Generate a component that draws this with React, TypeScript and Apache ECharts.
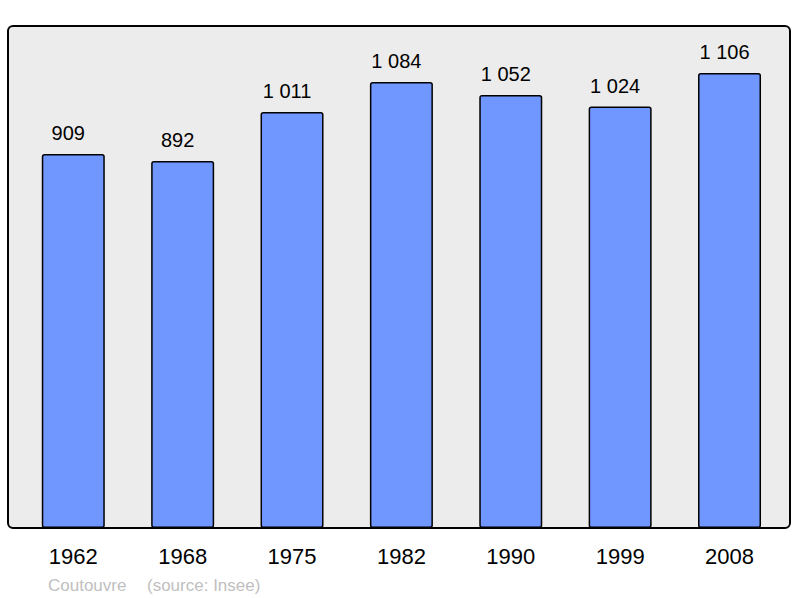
import React, { useEffect, useRef } from "react";
import * as echarts from "echarts";

const years = ["1962", "1968", "1975", "1982", "1990", "1999", "2008"];
const population = [909, 892, 1011, 1084, 1052, 1024, 1106];
const commune = "Coutouvre";
const source = "(source: Insee)";

const fmt = (v: number) => String(v).replace(/\B(?=(\d{3})+(?!\d))/g, " ");

export default function App() {
  const ref = useRef<HTMLDivElement>(null);
  useEffect(() => {
    document.body.style.margin = "0";
    const chart = echarts.init(ref.current!, null, { renderer: "svg" });
    chart.setOption({
      animation: false,
      textStyle: { fontFamily: "Liberation Sans, Arial, sans-serif" },
      grid: { left: 18.6, right: 15.8, top: 34.2, bottom: 70, containLabel: false },
      xAxis: {
        type: "category",
        data: years,
        axisLine: { show: false },
        axisTick: { show: false },
        axisLabel: { fontSize: 22, color: "#000", margin: 17, fontFamily: "Liberation Sans, Arial, sans-serif" },
      },
      yAxis: {
        type: "value",
        min: 0,
        max: 1200,
        show: false,
        splitLine: { show: false },
      },
      graphic: [
        {
          type: "rect",
          z: -10,
          shape: { x: 8, y: 26, width: 782, height: 502, r: 5 },
          style: { fill: "#ececec", stroke: "#000", lineWidth: 2 },
        },
        {
          type: "text",
          x: 48,
          y: 585,
          style: {
            text: commune,
            fontSize: 17,
            fill: "#c0c0c0",
            fontFamily: "Liberation Sans, Arial, sans-serif",
            verticalAlign: "middle",
          },
        },
        {
          type: "text",
          x: 147,
          y: 585,
          style: {
            text: source,
            fontSize: 17,
            fill: "#c0c0c0",
            fontFamily: "Liberation Sans, Arial, sans-serif",
            verticalAlign: "middle",
          },
        },
      ],
      series: [
        {
          type: "bar",
          data: population,
          barWidth: 63,
          itemStyle: { color: "#7096ff", borderColor: "#000", borderWidth: 1.5, borderRadius: 2 },
          label: {
            show: true,
            position: "top",
            distance: 11,
            offset: [-5, 0],
            fontSize: 20,
            color: "#000",
            fontFamily: "Liberation Sans, Arial, sans-serif",
            formatter: (p: any) => fmt(p.value),
          },
        },
      ],
    });
    return () => chart.dispose();
  }, []);
  return <div ref={ref} style={{ width: 800, height: 598 }} />;
}
